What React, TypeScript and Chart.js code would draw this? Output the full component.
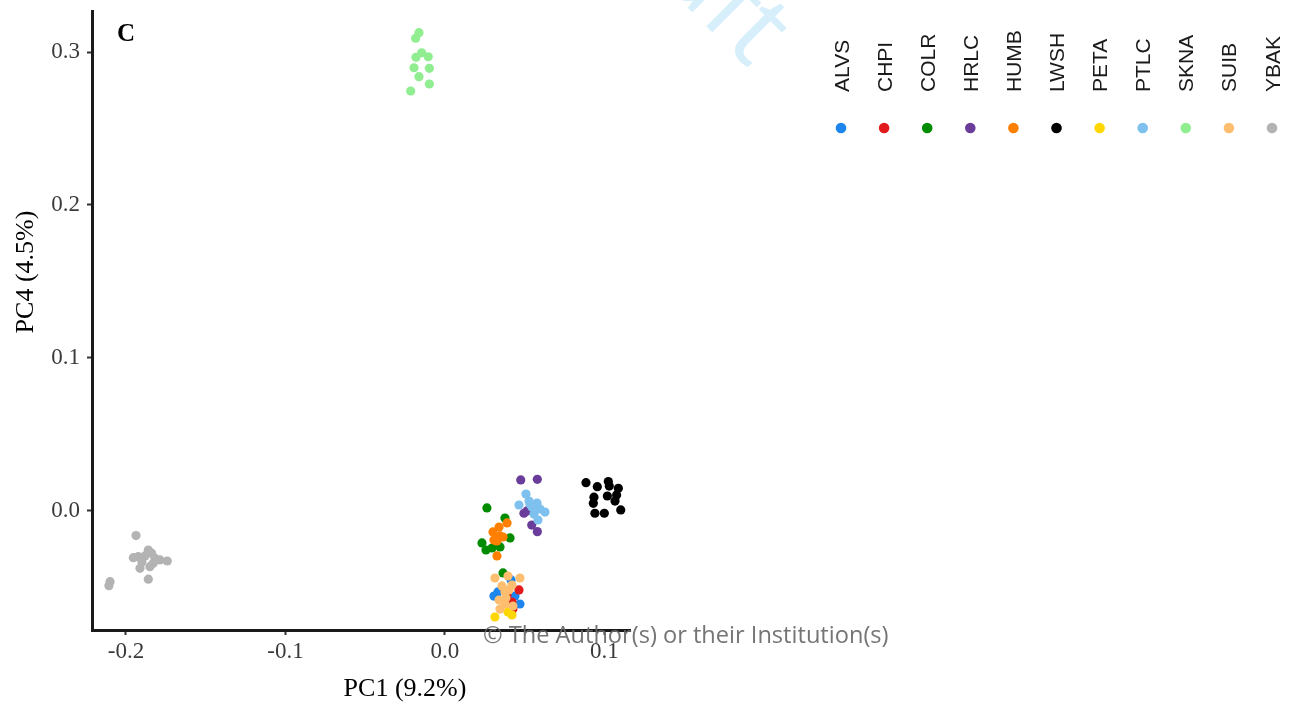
import { useEffect, useRef } from "react";
import { Chart, registerables } from "chart.js";

Chart.register(...registerables);

// Populations (legend order) and their colours
const groups = ["ALVS", "CHPI", "COLR", "HRLC", "HUMB", "LWSH", "PETA", "PTLC", "SKNA", "SUIB", "YBAK"];
const groupColors = ["#1C86EE", "#E31A1C", "#008B00", "#6A3D9A", "#FF7F00", "#000000", "#FFD700", "#7EC0EE", "#90EE90", "#FDBF6F", "#B3B3B3"];

// PC1 / PC4 scores per population
const pc1ALVS = [0.0414, 0.0307, 0.047, 0.0408, 0.0332, 0.0439];
const pc4ALVS = [-0.0451, -0.0556, -0.0608, -0.0582, -0.0529, -0.0556];
const pc1CHPI = [0.0464, 0.042, 0.0426, 0.0389];
const pc4CHPI = [-0.0516, -0.0595, -0.0641, -0.0549];
const pc1COLR = [0.0263, 0.0376, 0.0408, 0.0232, 0.0257, 0.0295, 0.0345, 0.0364];
const pc4COLR = [0.002, -0.0046, -0.0176, -0.0209, -0.0255, -0.0242, -0.0235, -0.0405];
const pc1HRLC = [0.0475, 0.0579, 0.0495, 0.0544, 0.0579, 0.0514];
const pc4HRLC = [0.0203, 0.0207, -0.0015, -0.0092, -0.0135, 0.0];
const pc1HUMB = [0.0389, 0.0339, 0.0301, 0.0345, 0.0364, 0.0307, 0.0326, 0.0326];
const pc4HUMB = [-0.0078, -0.0105, -0.0137, -0.0163, -0.017, -0.019, -0.0196, -0.0294];
const pc1LWSH = [0.0884, 0.0955, 0.1024, 0.103, 0.1087, 0.1018, 0.1076, 0.0934, 0.093, 0.1066, 0.094, 0.0999, 0.1102];
const pc4LWSH = [0.0185, 0.0159, 0.0192, 0.0163, 0.0148, 0.0098, 0.0105, 0.009, 0.005, 0.0065, -0.0015, -0.0015, 0.0007];
const pc1PETA = [0.0313, 0.042, 0.0395];
const pc4PETA = [-0.0693, -0.068, -0.066];
const pc1PTLC = [0.0508, 0.0464, 0.0527, 0.0577, 0.0545, 0.0596, 0.0627, 0.0558, 0.0583, 0.0533];
const pc4PTLC = [0.0111, 0.0039, 0.0065, 0.0052, 0.0026, 0.0013, -0.0007, -0.002, -0.0059, 0.0046];
const pc1SKNA = [-0.0163, -0.0184, -0.0146, -0.0182, -0.0105, -0.0194, -0.0098, -0.0163, -0.0098, -0.0215];
const pc4SKNA = [0.3126, 0.309, 0.2995, 0.2965, 0.2969, 0.2897, 0.2893, 0.2839, 0.2791, 0.2745];
const pc1SUIB = [0.0313, 0.0395, 0.047, 0.0357, 0.042, 0.0376, 0.0339, 0.0382, 0.0345, 0.0426, 0.0376, 0.0401];
const pc4SUIB = [-0.0438, -0.0425, -0.0438, -0.049, -0.0484, -0.0529, -0.0582, -0.0569, -0.0641, -0.0621, -0.0608, -0.0516];
const pc1YBAK = [-0.1937, -0.1954, -0.1923, -0.186, -0.1839, -0.1818, -0.1787, -0.1741, -0.1912, -0.185, -0.1829, -0.186, -0.21, -0.2107, -0.1881, -0.19];
const pc4YBAK = [-0.0161, -0.0305, -0.0299, -0.0255, -0.0276, -0.0309, -0.032, -0.0327, -0.0375, -0.0364, -0.0342, -0.0446, -0.0462, -0.0488, -0.0294, -0.0333];

const pc1Values = [pc1ALVS, pc1CHPI, pc1COLR, pc1HRLC, pc1HUMB, pc1LWSH, pc1PETA, pc1PTLC, pc1SKNA, pc1SUIB, pc1YBAK];
const pc4Values = [pc4ALVS, pc4CHPI, pc4COLR, pc4HRLC, pc4HUMB, pc4LWSH, pc4PETA, pc4PTLC, pc4SKNA, pc4SUIB, pc4YBAK];

// Axis ranges and tick positions
const xRange = [-0.2213, 0.116];
const yRange = [-0.0778, 0.3268];
const xTicks = [-0.2, -0.1, 0.0, 0.1];
const yTicks = [0.0, 0.1, 0.2, 0.3];

const xTitle = "PC1 (9.2%)";
const yTitle = "PC4 (4.5%)";
const panelTag = "C";
const creditText = "\u00A9 The Author(s) or their Institution(s)";
const draftText = "Draft";

const SERIF = "'Liberation Serif', 'Times New Roman', serif";
const SANS = "'Liberation Sans', Arial, sans-serif";

const annotations = {
  id: "annotations",
  beforeDraw(chart: any) {
    const ctx = chart.ctx as CanvasRenderingContext2D;
    ctx.save();
    ctx.translate(574, -106);
    ctx.rotate(Math.PI / 4);
    ctx.font = "104px 'Open Sans', sans-serif";
    ctx.fillStyle = "#D6EFFB";
    ctx.textBaseline = "alphabetic";
    ctx.textAlign = "left";
    ctx.fillText(draftText, 0, 0);
    ctx.restore();
  },
  afterDraw(chart: any) {
    const ctx = chart.ctx as CanvasRenderingContext2D;
    const area = chart.chartArea;

    // axis titles
    ctx.save();
    ctx.fillStyle = "#000000";
    ctx.font = `26px ${SERIF}`;
    ctx.textAlign = "center";
    ctx.textBaseline = "alphabetic";
    ctx.fillText(xTitle, 405, 696);
    ctx.translate(33, 272);
    ctx.rotate(-Math.PI / 2);
    ctx.fillText(yTitle, 0, 0);
    ctx.restore();

    // panel tag
    ctx.save();
    ctx.fillStyle = "#000000";
    ctx.font = `bold 25px ${SERIF}`;
    ctx.textAlign = "left";
    ctx.textBaseline = "alphabetic";
    ctx.fillText(panelTag, area.left + 25, 41);
    ctx.restore();

    // legend: rotated labels above coloured keys
    const x0 = 841;
    const dx = 43.1;
    ctx.save();
    groups.forEach((g, i) => {
      const cx = x0 + i * dx;
      ctx.save();
      ctx.translate(cx, 92);
      ctx.rotate(-Math.PI / 2);
      ctx.font = `21px ${SANS}`;
      ctx.fillStyle = "#1A1A1A";
      ctx.textAlign = "left";
      ctx.textBaseline = "alphabetic";
      ctx.fillText(g, 0, 7.5);
      ctx.restore();
      ctx.beginPath();
      ctx.arc(cx, 128, 5.3, 0, Math.PI * 2);
      ctx.fillStyle = groupColors[i];
      ctx.fill();
    });
    ctx.restore();

    // credit line
    ctx.save();
    ctx.font = "23.6px 'Open Sans', sans-serif";
    ctx.fillStyle = "rgba(105,105,105,0.92)";
    ctx.textAlign = "left";
    ctx.textBaseline = "alphabetic";
    ctx.fillText(creditText, 483, 643);
    ctx.restore();
  },
};

export default function App() {
  const canvasRef = useRef<HTMLCanvasElement | null>(null);

  useEffect(() => {
    const canvas = canvasRef.current;
    if (!canvas) return;

    const datasets = groups.map((g, i) => ({
      label: g,
      data: pc1Values[i].map((x, j) => ({ x, y: pc4Values[i][j] })),
      backgroundColor: groupColors[i],
      borderColor: groupColors[i],
      borderWidth: 0,
      pointRadius: 4.6,
      pointHoverRadius: 4.6,
      order: groups.length - i,
    }));

    const chart = new Chart(canvas, {
      type: "scatter",
      data: { datasets },
      options: {
        responsive: false,
        animation: false,
        events: [],
        layout: { autoPadding: false, padding: { left: 0, top: 11, right: 1304 - 630, bottom: 0 } },
        plugins: { legend: { display: false }, tooltip: { enabled: false } },
        scales: {
          x: {
            type: "linear",
            position: "bottom",
            min: xRange[0],
            max: xRange[1],
            afterBuildTicks: (s: any) => {
              s.ticks = xTicks.map((v) => ({ value: v }));
            },
            afterFit: (s: any) => {
              s.height = 76;
              s.paddingLeft = 0;
              s.paddingRight = 0;
              s.paddingTop = 0;
              s.paddingBottom = 0;
            },
            ticks: {
              callback: (v: any) => Number(v).toFixed(1),
              font: { family: SERIF, size: 23 },
              color: "#3A3A3A",
              padding: 3,
              maxRotation: 0,
              autoSkip: false,
            },
            grid: { drawOnChartArea: false, drawTicks: true, tickLength: 5, tickColor: "#333333", tickWidth: 2 },
            border: { display: true, color: "#1A1A1A", width: 3 },
          },
          y: {
            type: "linear",
            position: "left",
            min: yRange[0],
            max: yRange[1],
            afterBuildTicks: (s: any) => {
              s.ticks = yTicks.map((v) => ({ value: v }));
            },
            afterFit: (s: any) => {
              s.width = 92;
              s.paddingLeft = 0;
              s.paddingRight = 0;
              s.paddingTop = 0;
              s.paddingBottom = 0;
            },
            ticks: {
              callback: (v: any) => Number(v).toFixed(1),
              font: { family: SERIF, size: 23 },
              color: "#3A3A3A",
              padding: 7,
              autoSkip: false,
            },
            grid: { drawOnChartArea: false, drawTicks: true, tickLength: 5, tickColor: "#333333", tickWidth: 2 },
            border: { display: true, color: "#1A1A1A", width: 3 },
          },
        },
      },
      plugins: [annotations],
    });

    return () => chart.destroy();
  }, []);

  return (
    <canvas
      ref={canvasRef}
      width={1304}
      height={706}
      style={{ position: "absolute", left: 0, top: 0, display: "block", background: "#FFFFFF" }}
    />
  );
}
